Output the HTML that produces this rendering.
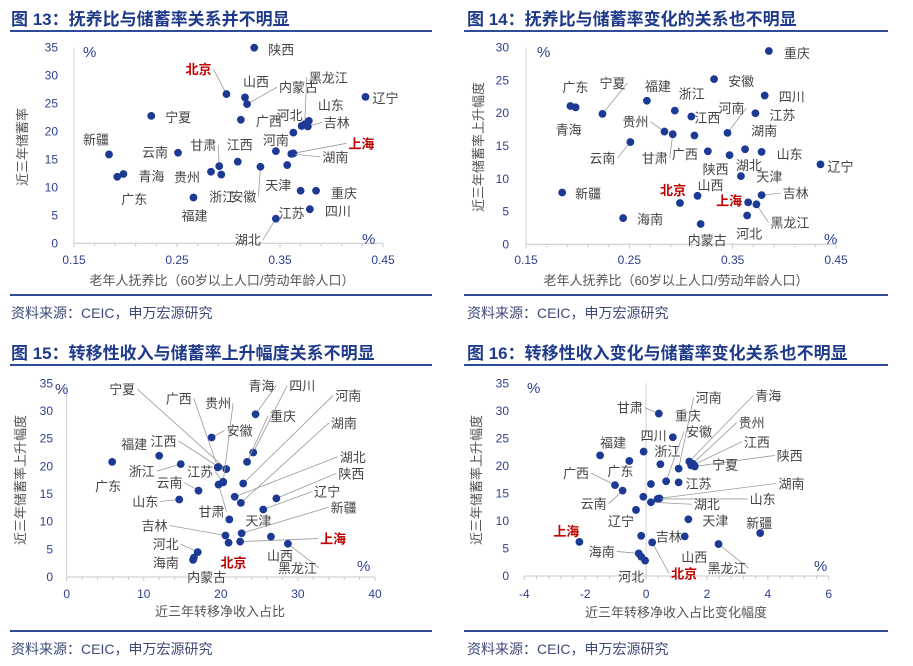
<!DOCTYPE html>
<html><head><meta charset="utf-8">
<style>
html,body{margin:0;padding:0;background:#fff;}
svg{display:block;font-family:"Liberation Sans","Noto Sans CJK SC",sans-serif;}
.title{font-size:17px;font-weight:bold;fill:#1f3a8a;}
.src{font-size:14px;fill:#3c4a78;}
.tick{font-size:12px;fill:#2e3f8f;}
.lbl{font-size:13px;fill:#444;}
.red{fill:#c00000;font-weight:bold;}
.axt{font-size:13px;fill:#555;}
.pct{font-size:15px;fill:#2e3f8f;}
</style></head>
<body>
<svg id="chart" width="913" height="666" viewBox="0 0 913 666" xmlns="http://www.w3.org/2000/svg">
<rect width="913" height="666" fill="#fff"/>
<text class="title" x="11" y="25">图 13：抚养比与储蓄率关系并不明显</text>
<line x1="10" y1="31" x2="432" y2="31" stroke="#2f4c9a" stroke-width="2"/>
<line x1="10" y1="295" x2="432" y2="295" stroke="#2f4c9a" stroke-width="2"/>
<text class="src" x="11" y="318">资料来源：CEIC，申万宏源研究</text>
<text class="title" x="467" y="25">图 14：抚养比与储蓄率变化的关系也不明显</text>
<line x1="464" y1="31" x2="888" y2="31" stroke="#2f4c9a" stroke-width="2"/>
<line x1="464" y1="295" x2="888" y2="295" stroke="#2f4c9a" stroke-width="2"/>
<text class="src" x="467" y="318">资料来源：CEIC，申万宏源研究</text>
<text class="title" x="11" y="359">图 15：转移性收入与储蓄率上升幅度关系不明显</text>
<line x1="10" y1="365" x2="432" y2="365" stroke="#2f4c9a" stroke-width="2"/>
<line x1="10" y1="631" x2="432" y2="631" stroke="#2f4c9a" stroke-width="2"/>
<text class="src" x="11" y="654">资料来源：CEIC，申万宏源研究</text>
<text class="title" x="467" y="359">图 16：转移性收入变化与储蓄率变化关系也不明显</text>
<line x1="464" y1="365" x2="888" y2="365" stroke="#2f4c9a" stroke-width="2"/>
<line x1="464" y1="631" x2="888" y2="631" stroke="#2f4c9a" stroke-width="2"/>
<text class="src" x="467" y="654">资料来源：CEIC，申万宏源研究</text>
</svg>
<script>
// ---- Figure 13 data ----
const names1 = ["陕西","北京","山西","内蒙古","辽宁","宁夏","广西","河北","黑龙江","山东","吉林","河南","","上海","湖南","新疆","云南","江西","甘肃","贵州","浙江","安徽","天津","江苏","重庆","四川","湖北","福建","广东","青海"];
const xs1 = [0.325,0.298,0.316,0.318,0.433,0.225,0.312,0.371,0.374,0.378,0.377,0.346,0.363,0.363,0.361,0.184,0.251,0.309,0.291,0.283,0.293,0.331,0.357,0.370,0.385,0.379,0.346,0.266,0.192,0.198];
const ys1 = [35.0,26.7,26.1,24.9,26.2,22.8,22.1,21.0,21.3,21.9,20.9,16.5,19.8,16.1,16.0,15.9,16.2,14.6,13.8,12.8,12.3,13.7,14.0,9.4,9.4,6.1,4.4,8.2,11.9,12.4];
const lab1 = [[14,2],[-41,-25,1,1],[-2,-16],[32,-17,0,1],[7,1],[14,1],[15,1],[-25,-11],[4,-47,0,1],[9,-16],[16,-4,0,1],[-13,-11],[0,0],[55,-10,1,1],[31,3,0,1],[-26,-15],[-36,-1],[-11,-17],[-29,-21,0,1],[-37,5],[-12,22],[-30,30,0,1],[-22,20],[-22,22],[15,2],[15,2],[-41,21,0,1],[-12,18],[4,22],[15,2]];
// ---- Figure 14 data ----
const names2 = ["重庆","安徽","四川","福建","广东","青海","宁夏","浙江","江西","河南","江苏","湖南","山东","贵州","甘肃","天津","云南","广西","陕西","湖北","辽宁","吉林","上海","黑龙江","河北","北京","山西","新疆","海南","内蒙古"];
const xs2 = [0.385,0.332,0.381,0.267,0.193,0.198,0.224,0.294,0.310,0.345,0.372,0.362,0.378,0.284,0.292,0.313,0.251,0.326,0.347,0.358,0.435,0.378,0.365,0.373,0.364,0.299,0.316,0.185,0.244,0.319];
const ys2 = [29.5,25.2,22.7,21.9,21.1,20.9,19.9,20.4,19.5,17.0,20.0,14.5,14.1,17.2,16.8,16.6,15.6,14.2,13.6,10.4,12.2,7.5,6.4,6.1,4.4,6.3,7.4,7.9,4.0,3.1];
const lab2 = [[15,2],[14,2],[14,1],[-2,-15],[-8,-19],[-20,22],[-3,-31,0,1],[4,-17],[3,1],[-9,-25,0,1],[14,2],[6,-19],[15,2],[-42,-10,0,1],[-31,24,0,1],[62,41],[-41,16,0,1],[-36,3],[-27,14],[-5,-11],[7,2],[21,-2,0,1],[-32,-2,1],[14,18,0,1],[-11,18],[-20,-13,1],[0,-11],[13,1],[14,1],[-13,16]];
// ---- Figure 15 data ----
const names3 = ["广东","福建","浙江","安徽","青海","四川","重庆","河南","湖南","湖北","陕西","辽宁","新疆","天津","上海","山西","黑龙江","吉林","北京","山东","云南","江苏","甘肃","江西","宁夏","广西","贵州","河北","海南","内蒙古"];
const xs3 = [5.9,12.0,14.8,18.8,24.5,24.2,23.4,22.9,22.6,21.8,27.2,25.5,22.7,21.1,22.5,26.5,28.7,20.6,21.0,14.6,17.1,20.3,19.7,19.7,20.7,19.6,20.3,17.0,16.5,16.4];
const ys3 = [20.8,21.9,20.4,25.2,29.4,22.5,20.8,16.9,13.4,14.5,14.2,12.2,7.9,10.4,6.4,7.3,6.0,7.5,6.2,14.0,15.6,17.1,16.7,19.9,19.5,19.8,17.2,4.5,3.5,3.1];
const lab3 = [[-17,24],[-38,-12],[-52,7,0,1],[15,-7,0,1],[-7,-29,0,1],[36,-67,0,1],[23,-46,0,1],[92,-88,0,1],[90,-80,0,1],[105,-40,0,1],[62,-25,0,1],[51,-18,0,1],[89,-26,0,1],[16,1],[80,-3,1,1],[-4,19],[-10,24,0,1],[-84,-10,0,1],[-8,20,1],[-47,2,0,1],[-42,-8,0,1],[-36,-11,0,1],[-20,27,0,1],[-68,-26,0,1],[-117,-80,0,1],[-52,-69,0,1],[-18,-79,0,1],[-45,-8,0,1],[-41,5],[-6,17]];
// ---- Figure 16 data ----
const names4 = ["甘肃","重庆","四川","福建","浙江","广东","广西","云南","河南","青海","贵州","江西","陕西","宁夏","江苏","安徽","","湖南","山东","湖北","","辽宁","天津","新疆","吉林","山西","北京","黑龙江","上海","海南","河北",""];
const xs4 = [0.42,0.88,-0.08,-1.51,0.47,-0.55,-1.02,-0.77,1.07,1.42,1.53,1.57,1.60,1.48,1.07,0.66,0.16,0.44,0.38,0.16,-0.09,-0.33,1.39,3.75,1.27,-0.16,0.20,2.38,-2.19,-0.24,-0.03,-0.16];
const ys4 = [29.5,25.2,22.6,21.9,20.3,20.9,16.5,15.5,19.5,20.8,20.4,20.2,19.9,20.1,17.0,17.2,16.7,14.1,14.0,13.4,14.4,12.0,10.3,7.8,7.2,7.3,6.1,5.8,6.2,4.1,2.8,3.5];
const lab4 = [[-42,-6,0,1],[2,-22],[-3,-16],[0,-13],[-6,-13],[-22,10],[-52,-12,0,1],[-42,13,0,1],[17,-71,0,1],[66,-66,0,1],[46,-41,0,1],[50,-23,0,1],[82,-11,0,1],[21,-1],[7,1],[20,-50,0,1],[0,0],[119,-15,0,1],[92,0,0,1],[43,2,0,1],[0,0],[-28,11],[14,1],[-14,-10],[-29,0],[40,21],[19,31,1,1],[-11,24,0,1],[-26,-11,1],[-50,-2,0,1],[-27,16],[0,0]];

const NS = "http://www.w3.org/2000/svg";
const svg = document.getElementById("chart");
function mk(tag, attrs, parent){const e=document.createElementNS(NS,tag);for(const k in attrs)e.setAttribute(k,attrs[k]);(parent||svg).appendChild(e);return e;}

function panel(id, cfg, names, xs, ys, labs){
  const g = mk("g",{});
  
  
  const sx = v => cfg.x0 + (v - cfg.xmin) / (cfg.xmax - cfg.xmin) * (cfg.x1 - cfg.x0);
  const sy = v => cfg.y0 - (v - cfg.ymin) / (cfg.ymax - cfg.ymin) * (cfg.y0 - cfg.y1);
  // axes
  const xa = mk("line",{x1:cfg.x0,y1:cfg.y0,x2:cfg.x1,y2:cfg.y0,stroke:"#c8c8c8","stroke-width":1},g);
  
  
  const yax = sx(cfg.yAxisAt);
  const ya = mk("line",{x1:yax,y1:cfg.y1,x2:yax,y2:cfg.y0,stroke:"#d0d0d0","stroke-width":1},g);
  
  
  const nMinor = cfg.xticks.length - 1;
  for(let i=0;i<nMinor*5+1;i++){
    const v = cfg.xmin + (cfg.xmax-cfg.xmin)*i/(nMinor*5);
    mk("line",{x1:sx(v),y1:cfg.y0,x2:sx(v),y2:cfg.y0+(i%5===0?4:3),stroke:"#c8c8c8"},g);
  }
  cfg.xticks.forEach(t=>{
    const e = mk("text",{x:sx(t),y:cfg.xlabY,"text-anchor":"middle",class:"tick"},g);
    e.textContent = cfg.xfmt(t);
    
    
  });
  cfg.yticks.forEach(t=>{
    const e = mk("text",{x:cfg.ylabX,y:sy(t)+4,"text-anchor":"end",class:"tick"},g);
    e.textContent = String(t);
    
    
  });
  const p1 = mk("text",{x:cfg.pctTop[0],y:cfg.pctTop[1],class:"pct"},g); p1.textContent="%";
  
  
  const p2 = mk("text",{x:cfg.pctBot[0],y:cfg.pctBot[1],class:"pct"},g); p2.textContent="%";
  
  
  const xt = mk("text",{x:cfg.xTitle[0],y:cfg.xTitle[1],"text-anchor":"middle",class:"axt"},g); xt.textContent=cfg.xTitleText;
  
  
  const yt = mk("text",{x:0,y:0,"text-anchor":"middle",class:"axt",transform:`translate(${cfg.yTitle[0]},${cfg.yTitle[1]}) rotate(-90)`,"font-size":"14"},g); yt.textContent=cfg.yTitleText;
  
  
  // points
  names.forEach((n,i)=>{
    const px = sx(xs[i]), py = sy(ys[i]);
    const L = labs[i];
    if(n){
      const tx = px + L[0], ty = py + L[1];
      if(L[3]){
        const w = n.length*13;
        const ex = L[0] >= 0 ? tx-2 : tx+w+2;
        const ln = mk("line",{x1:px,y1:py,x2:ex,y2:ty,stroke:"#9a9a9a","stroke-width":0.8},g);
        
        
      }
      const t = mk("text",{x:tx,y:ty+5,class:"lbl"+(L[2]?" red":"")},g);
      t.textContent = n;
      
      
    }
    const c = mk("circle",{cx:px,cy:py,r:3.9,fill:"#1c3a94"},g);
    
    
  });
}
const f2 = v => v.toFixed(2);
const f0 = v => String(v);
panel("scatter-fig13",{x0:74,x1:383,xmin:0.15,xmax:0.45,y0:243.3,y1:47.7,ymin:0,ymax:35,yAxisAt:0.15,
  xticks:[0.15,0.25,0.35,0.45],yticks:[0,5,10,15,20,25,30,35],xfmt:f2,xlabY:264,ylabX:58,
  pctTop:[83,57],pctBot:[362,244],xTitle:[222,285],xTitleText:"老年人抚养比（60岁以上人口/劳动年龄人口）",
  yTitle:[27,147],yTitleText:"近三年储蓄率"},names1,xs1,ys1,lab1);
panel("scatter-fig14",{x0:526,x1:836,xmin:0.15,xmax:0.45,y0:244.3,y1:47.7,ymin:0,ymax:30,yAxisAt:0.15,
  xticks:[0.15,0.25,0.35,0.45],yticks:[0,5,10,15,20,25,30],xfmt:f2,xlabY:264,ylabX:509,
  pctTop:[537,57],pctBot:[824,244],xTitle:[676,285],xTitleText:"老年人抚养比（60岁以上人口/劳动年龄人口）",
  yTitle:[483,147],yTitleText:"近三年储蓄率上升幅度"},names2,xs2,ys2,lab2);
panel("scatter-fig15",{x0:66.7,x1:375,xmin:0,xmax:40,y0:577,y1:383.3,ymin:0,ymax:35,yAxisAt:0,
  xticks:[0,10,20,30,40],yticks:[0,5,10,15,20,25,30,35],xfmt:f0,xlabY:598,ylabX:53,
  pctTop:[55,394],pctBot:[357,571],xTitle:[220,616],xTitleText:"近三年转移净收入占比",
  yTitle:[25,480],yTitleText:"近三年储蓄率上升幅度"},names3,xs3,ys3,lab3);
panel("scatter-fig16",{x0:524.3,x1:828.7,xmin:-4,xmax:6,y0:576,y1:383.3,ymin:0,ymax:35,yAxisAt:0,
  xticks:[-4,-2,0,2,4,6],yticks:[0,5,10,15,20,25,30,35],xfmt:f0,xlabY:598,ylabX:509,
  pctTop:[527,393],pctBot:[814,571],xTitle:[676,617],xTitleText:"近三年转移净收入占比变化幅度",
  yTitle:[481,480],yTitleText:"近三年储蓄率上升幅度"},names4,xs4,ys4,lab4);
</script>
</body></html>
